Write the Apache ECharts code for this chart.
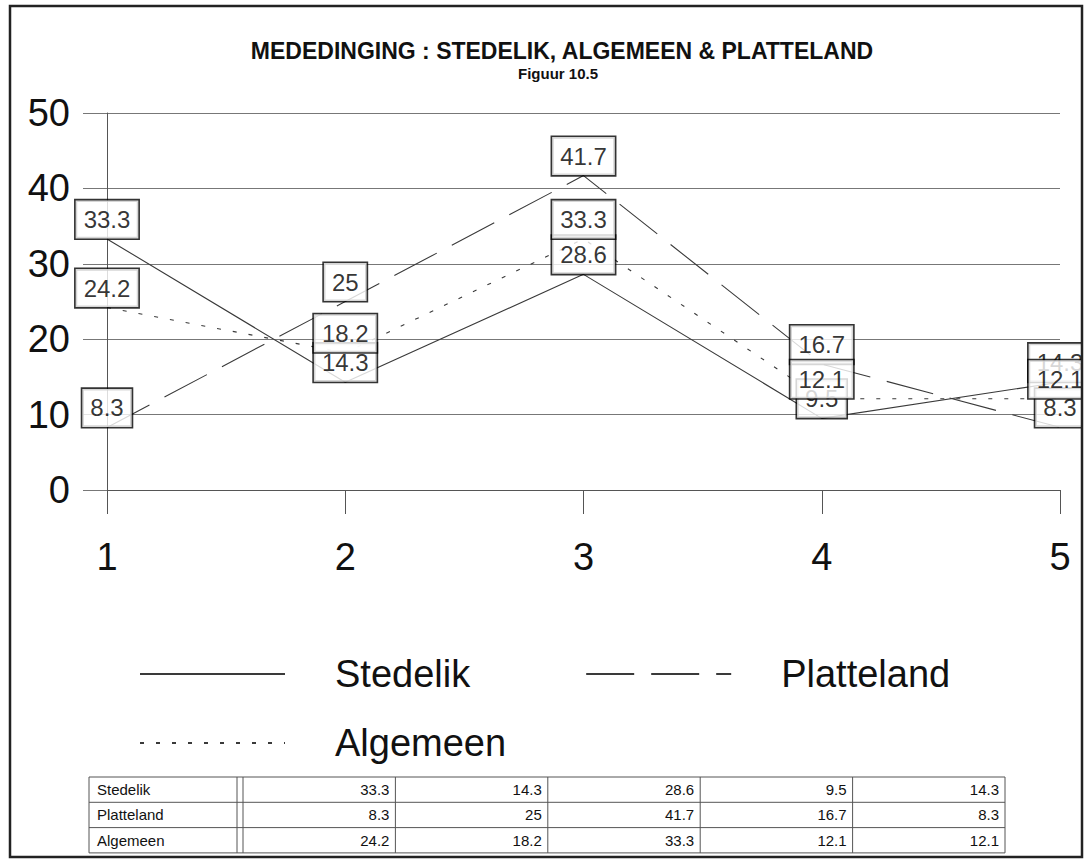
<!DOCTYPE html>
<html>
<head>
<meta charset="utf-8">
<script src="https://cdn.jsdelivr.net/npm/echarts@6/dist/echarts.min.js"></script>
<style>
  html, body { margin: 0; padding: 0; background: #fff; }
  #main { width: 1090px; height: 859px; }
</style>
</head>
<body>
<div id="main"></div>
<script>
// data
const categories = ['1', '2', '3', '4', '5']
const stedelik = [33.3, 14.3, 28.6, 9.5, 14.3]
const platteland = [8.3, 25, 41.7, 16.7, 8.3]
const algemeen = [24.2, 18.2, 33.3, 12.1, 12.1]
const seriesNames = ['Stedelik', 'Platteland', 'Algemeen']
const yTicks = [0, 10, 20, 30, 40, 50]

const FONT = '"Liberation Sans", Arial, sans-serif'
const INK = '#111'
const GRID = '#777'

const seriesData = [stedelik, platteland, algemeen]
const dashes = ['solid', [48, 17], [4, 12]]

// lines first, the boxed labels on top of every line
function lineSeries(i) {
  return {
    name: seriesNames[i],
    type: 'line',
    data: seriesData[i],
    symbol: 'none',
    z: 2,
    lineStyle: { color: '#3a3a3a', width: 1.1, type: dashes[i] },
    itemStyle: { color: '#3a3a3a' }
  }
}

function labelSeries(i) {
  return {
    name: seriesNames[i] + '-label',
    type: 'scatter',
    data: seriesData[i],
    symbolSize: 1,
    z: 5,
    itemStyle: { color: 'transparent' },
    silent: true,
    label: {
      show: true,
      position: 'top',
      distance: 0,
      fontFamily: FONT,
      fontSize: 24,
      lineHeight: 28,
      color: '#000',
      backgroundColor: '#fff',
      borderColor: '#000',
      borderWidth: 1.6,
      padding: [5, 8, 5, 8]
    }
  }
}

// data table under the legend
function buildTable() {
  let x0 = 89, x1 = 237, x2 = 243, colW = 152.4, y0 = 777, rowH = 25.3
  let right = x2 + colW * categories.length
  let bottom = y0 + rowH * seriesNames.length
  let line = (ax, ay, bx, by) => ({
    type: 'line',
    shape: { x1: ax, y1: ay, x2: bx, y2: by },
    style: { stroke: '#555', lineWidth: 1 }
  })
  let els = [{
    type: 'rect',
    shape: { x: x0, y: y0, width: right - x0, height: bottom - y0 },
    style: { fill: 'none', stroke: '#555', lineWidth: 1 }
  }]
  for (let r = 1; r < seriesNames.length; r++) {
    els.push(line(x0, y0 + r * rowH, right, y0 + r * rowH))
  }
  els.push(line(x1, y0, x1, bottom))
  els.push(line(x2, y0, x2, bottom))
  for (let c = 1; c < categories.length; c++) {
    els.push(line(x2 + c * colW, y0, x2 + c * colW, bottom))
  }
  seriesNames.forEach((name, r) => {
    let cy = y0 + r * rowH + rowH / 2
    els.push({
      type: 'text',
      x: x0 + 8, y: cy,
      style: { text: name, font: '15px ' + FONT, fill: INK, textVerticalAlign: 'middle' }
    })
    seriesData[r].forEach((v, c) => {
      els.push({
        type: 'text',
        x: x2 + (c + 1) * colW - 6, y: cy,
        style: { text: String(v), font: '15px ' + FONT, fill: INK, textAlign: 'right', textVerticalAlign: 'middle' }
      })
    })
  })
  return els
}

const legendBase = {
  orient: 'horizontal',
  itemWidth: 145,
  itemHeight: 14,
  itemGap: 115,
  selectedMode: false,
  itemStyle: { opacity: 0 },
  textStyle: {
    fontFamily: FONT,
    fontSize: 38,
    color: INK,
    lineHeight: 44,
    padding: [0, 0, 0, 45]
  }
}

const chart = echarts.init(document.getElementById('main'), null, { renderer: 'svg' })

chart.setOption({
  backgroundColor: '#fff',
  animation: false,
  title: [{
    text: 'MEDEDINGING : STEDELIK, ALGEMEEN & PLATTELAND',
    left: 557,
    textAlign: 'center',
    top: 34,
    textStyle: { fontFamily: FONT, fontSize: 23, fontWeight: 'bold', color: INK }
  }, {
    text: 'Figuur 10.5',
    left: 553,
    textAlign: 'center',
    top: 61,
    textStyle: { fontFamily: FONT, fontSize: 15, fontWeight: 'bold', color: INK }
  }],
  legend: [
    Object.assign({}, legendBase, { data: seriesNames.slice(0, 2), left: 134, top: 647 }),
    Object.assign({}, legendBase, { data: seriesNames.slice(2), left: 134, top: 716 })
  ],
  grid: { left: 107, right: 30, top: 113, bottom: 369, outerBoundsMode: 'none' },
  xAxis: {
    type: 'category',
    data: categories,
    boundaryGap: false,
    axisLine: { lineStyle: { color: '#555', width: 1 } },
    axisTick: { show: true, length: 24, lineStyle: { color: '#555' } },
    axisLabel: { fontFamily: FONT, fontSize: 38, color: INK, margin: 48 },
    splitLine: { show: false }
  },
  yAxis: {
    type: 'value',
    min: yTicks[0],
    max: yTicks[yTicks.length - 1],
    interval: yTicks[1] - yTicks[0],
    axisLine: { show: true, lineStyle: { color: '#555', width: 1 } },
    axisTick: { show: true, length: 24, lineStyle: { color: GRID } },
    axisLabel: { fontFamily: FONT, fontSize: 38, color: INK, margin: 37 },
    splitLine: { show: true, lineStyle: { color: GRID, width: 1 } }
  },
  series: [0, 1, 2].map(lineSeries).concat([0, 1, 2].map(labelSeries)),
  graphic: [{
    // the frame clips the last labels on the right
    type: 'rect',
    shape: { x: 1082, y: 0, width: 8, height: 859 },
    style: { fill: '#fff' },
    z: 9
  }, {
    type: 'rect',
    shape: { x: 10, y: 6, width: 1072, height: 851 },
    style: { fill: 'none', stroke: '#222', lineWidth: 2.5 },
    z: 10
  }].concat(buildTable())
})
</script>
</body>
</html>
